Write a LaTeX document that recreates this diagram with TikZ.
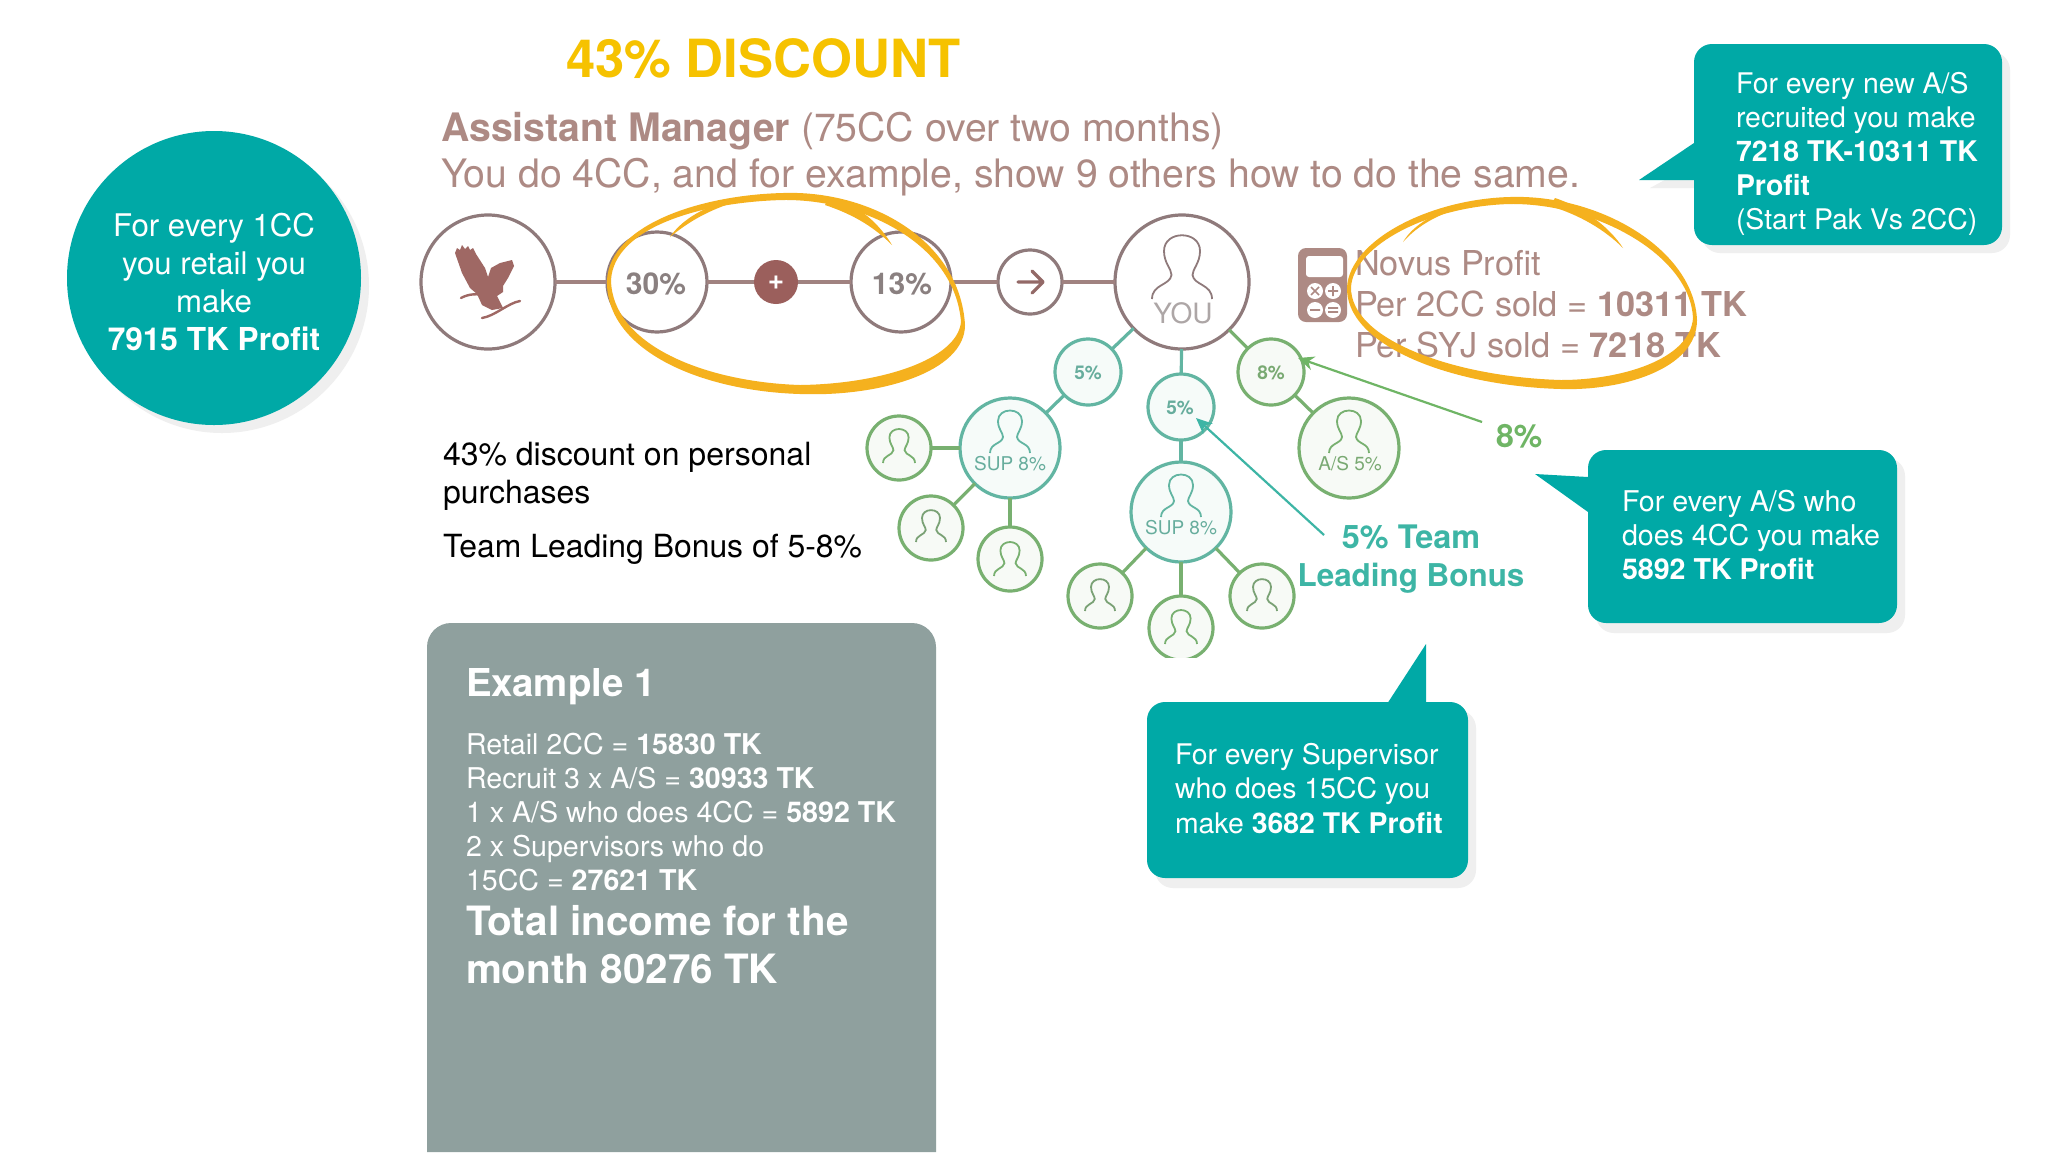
\documentclass[tikz,border=0pt]{standalone}
\usepackage{fontspec}
\setmainfont{TeX Gyre Heros}
\usetikzlibrary{arrows.meta,calc}
\definecolor{teal1}{HTML}{00A9A6}
\definecolor{shadowc}{HTML}{EFEFEF}
\definecolor{rosetxt}{HTML}{AD8A84}
\definecolor{brownline}{HTML}{A08280}
\definecolor{brownring}{HTML}{8F7A7B}
\definecolor{plusc}{HTML}{9B5F5C}
\definecolor{orangec}{HTML}{F5B11E}
\definecolor{titlec}{HTML}{F6C200}
\definecolor{greyb}{HTML}{8FA09E}
\definecolor{tealring}{HTML}{62B5A2}
\definecolor{greenring}{HTML}{78B070}
\definecolor{tealtxt}{HTML}{3DB5A5}
\definecolor{greentxt}{HTML}{6FB565}
\definecolor{greyt}{HTML}{8A8080}
\tikzset{
  x=0.5pt,y=-0.5pt,
  txt/.style={anchor=base west,inner sep=0pt,outer sep=0pt},
  ctxt/.style={anchor=base,inner sep=0pt,outer sep=0pt},
  brownc/.style={circle,draw=brownring,line width=1.6pt,fill=white,inner sep=0pt,outer sep=0pt},
  tealc/.style={circle,draw=tealring,line width=1.6pt,fill=tealring!6,inner sep=0pt,outer sep=0pt},
  greenc/.style={circle,draw=greenring,line width=1.6pt,fill=greenring!6,inner sep=0pt,outer sep=0pt},
  brownlink/.style={draw=brownline,line width=2pt},
  teallink/.style={draw=tealring,line width=1.6pt},
  greenlink/.style={draw=greenring,line width=1.6pt},
  callout/.style={fill=teal1,rounded corners=9pt,inner sep=0pt,outer sep=0pt,anchor=north west},
  scrawl/.style={fill=orangec,even odd rule},
}
\newcommand{\fs}[1]{\fontsize{#1}{#1}\selectfont}
\newcommand{\personicon}[4]{%
  \begin{scope}[shift={(#1,#2)},scale=#3]
  \draw[#4,line width=0.9pt] (-1,1) .. controls (-1,0.5) and (-0.4,0.55) .. (-0.35,0.2)
   .. controls (-0.35,0) and (-0.6,-0.2) .. (-0.6,-0.6)
   .. controls (-0.6,-1.3) and (0.6,-1.3) .. (0.6,-0.6)
   .. controls (0.6,-0.2) and (0.35,0) .. (0.35,0.2)
   .. controls (0.4,0.55) and (1,0.5) .. (1,1);
  \end{scope}}
\begin{document}
\begin{tikzpicture}
\useasboundingbox (0,0) rectangle (2048,1152);
\fill[white] (0,0) rectangle (2048,1152);

% left circle
\fill[shadowc] (222,286) circle[radius=147];
\node[circle,fill=teal1,minimum size=147pt,inner sep=0pt] (retail) at (214,278) {};
\node[ctxt,white] (r1) at (214,236) {\fs{15.6}For every 1CC};
\node[ctxt,white] (r2) at (214,274) {\fs{15.6}you retail you};
\node[ctxt,white] (r3) at (214,312) {\fs{15.6}make};
\node[ctxt,white] (r4) at (214,350) {\fs{15.8}\textbf{7915 TK Profit}};

% title
\node[txt,titlec] (title) at (566,77) {\fs{26.3}\textbf{43\% DISCOUNT}};
\node[txt,rosetxt] (h1) at (441,141) {\fs{19.6}\textbf{Assistant Manager} (75CC over two months)};
\node[txt,rosetxt] (h2) at (441,187) {\fs{19.6}You do 4CC, and for example, show 9 others how to do the same.};

% top row
\node[brownc,minimum size=67pt] (eagle) at (488,282) {};
\node[brownc,minimum size=50pt] (p30) at (657,282) {};
\node[circle,fill=plusc,minimum size=22pt,inner sep=0pt] (plus) at (776,282) {};
\node[brownc,minimum size=50pt] (p13) at (901,282) {};
\node[brownc,minimum size=32pt] (arr) at (1030,282) {};
\node[brownc,minimum size=67pt] (you) at (1182,282) {};
\draw[brownlink] (eagle) -- (p30);
\draw[brownlink] (p30) -- (plus);
\draw[brownlink] (plus) -- (p13);
\draw[brownlink] (p13) -- (arr);
\draw[brownlink] (arr) -- (you);
\node[ctxt,greyt] (t30) at (656,294) {\fs{15}\textbf{30\%}};
\node[ctxt,greyt] (t13) at (902,294) {\fs{15}\textbf{13\%}};
\node[ctxt,white] (tplus) at (776,289) {\fs{14}\textbf{+}};
\node[ctxt,greyt!70] (tyou) at (1183,323) {\fs{14}YOU};
\personicon{1182}{269}{30}{brownring}
% arrow glyph
\draw[plusc!70!gray,line width=1.6pt,line cap=round,line join=round]
  (1018,282) -- (1043,282) (1032,271) -- (1043,282) -- (1032,293);
% eagle
\fill[plusc!80!rosetxt] (455,253) -- (457,248) -- (460,250) -- (462,245) -- (465,249) -- (468,246) -- (470,250) -- (473,248) -- (476,254)
  -- (485,268) -- (488,277) -- (491,268) -- (500,263) -- (512,260) -- (514,266) -- (508,278) -- (503,286) -- (503,292) -- (497,296)
  -- (503,308) -- (492,310) -- (482,305) -- (477,294) -- (470,288) -- (462,273) -- cycle;
\draw[plusc!80!rosetxt,line width=1.2pt,line cap=round] (461,298) .. controls (468,294) and (478,293) .. (486,296)
  (482,318) .. controls (495,316) and (508,303) .. (520,301);

% calculator
\node[rounded corners=4pt,fill=rosetxt,minimum width=24.5pt,minimum height=37pt,inner sep=0pt] (calc) at (1322.5,285) {};
\fill[white,rounded corners=1.5pt] (1306,256) rectangle (1343,277);
\foreach \bx/\by in {1315/291,1333/291,1315/310,1333/310} \fill[white] (\bx,\by) circle[radius=8];
\draw[rosetxt,line width=0.8pt] (1311,287) -- (1319,295) (1319,287) -- (1311,295)
  (1328,291) -- (1338,291) (1333,286) -- (1333,296)
  (1310,310) -- (1320,310)
  (1328,308) -- (1338,308) (1328,312) -- (1338,312);

% novus text
\node[txt,rosetxt] (n1) at (1355,275) {\fs{17.15}Novus Profit};
\node[txt,rosetxt] (n2) at (1355,316) {\fs{17.15}Per 2CC sold = \textbf{10311 TK}};
\node[txt,rosetxt] (n3) at (1355,357) {\fs{17.15}Per SYJ sold = \textbf{7218 TK}};

% tree
\node[tealc,minimum size=33pt] (a5) at (1088,372) {};
\node[tealc,minimum size=33pt] (b5) at (1181,407) {};
\node[greenc,minimum size=33pt] (c8) at (1271,372) {};
\node[tealc,minimum size=50pt] (sup1) at (1010,448) {};
\node[greenc,minimum size=32pt] (s1a) at (899,448) {};
\node[greenc,minimum size=32pt] (s1b) at (931,528) {};
\node[greenc,minimum size=32pt] (s1c) at (1010,559) {};
\node[greenc,minimum size=50pt] (as) at (1349,448) {};
\node[tealc,minimum size=50pt] (sup2) at (1181,512) {};
\node[greenc,minimum size=32pt] (s2a) at (1100,596) {};
\node[greenc,minimum size=32pt] (s2b) at (1181,628) {};
\node[greenc,minimum size=32pt] (s2c) at (1262,596) {};
\draw[teallink] (you) -- (a5);
\draw[teallink] (you) -- (b5);
\draw[greenlink] (you) -- (c8);
\draw[teallink] (a5) -- (sup1);
\draw[greenlink] (sup1) -- (s1a);
\draw[greenlink] (sup1) -- (s1b);
\draw[greenlink] (sup1) -- (s1c);
\draw[greenlink] (c8) -- (as);
\draw[teallink] (b5) -- (sup2);
\draw[greenlink] (sup2) -- (s2a);
\draw[greenlink] (sup2) -- (s2b);
\draw[greenlink] (sup2) -- (s2c);
\fill[white] (1130,658) rectangle (1230,668);
\personicon{1010}{433}{20}{tealring}
\personicon{1181}{497}{20}{tealring}
\personicon{1349}{433}{20}{greenring}
\personicon{899}{447}{16}{greenring}
\personicon{931}{527}{15}{greenring!70!gray}
\personicon{1010}{560}{16}{greenring}
\personicon{1100}{596}{15}{greenring!70!gray}
\personicon{1181}{628}{16}{greenring}
\personicon{1262}{596}{15}{greenring!70!gray}
\node[ctxt,tealring!85!gray] (ta5) at (1088,379) {\fs{9.5}\textbf{5\%}};
\node[ctxt,tealring!85!gray] (tb5) at (1180,414) {\fs{9.5}\textbf{5\%}};
\node[ctxt,greenring!85!gray] (tc8) at (1271,379) {\fs{9.5}\textbf{8\%}};
\node[ctxt,tealring!85!gray] (tsup1) at (1010,470) {\fs{9.5}SUP 8\%};
\node[ctxt,tealring!85!gray] (tsup2) at (1181,534) {\fs{9.5}SUP 8\%};
\node[ctxt,greenring!85!gray] (tas) at (1350,470) {\fs{9.5}A/S 5\%};

% labels with arrows
\node[txt,greentxt] (l8) at (1496,447) {\fs{16}\textbf{8\%}};
\coordinate (l8from) at (1482,422);
\coordinate (l8to) at (1298,358);
\draw[-{Stealth[length=8pt,width=7pt]},draw=greentxt,line width=1.1pt,fill=greentxt] (l8from) -- (l8to);
\node[ctxt,tealtxt] (l5a) at (1411,548) {\fs{16.2}\textbf{5\% Team}};
\node[ctxt,tealtxt] (l5b) at (1411,586) {\fs{15.7}\textbf{Leading Bonus}};
\coordinate (l5from) at (1324,535);
\coordinate (l5to) at (1196,418);
\draw[-{Stealth[length=8pt,width=7pt]},draw=tealtxt,line width=1.1pt,fill=tealtxt] (l5from) -- (l5to);

% black text
\node[txt,black] (d1) at (443,465) {\fs{16}43\% discount on personal};
\node[txt,black] (d2) at (443,503) {\fs{16}purchases};
\node[txt,black] (d3) at (443,557) {\fs{15.95}Team Leading Bonus of 5-8\%};

% grey box
\fill[greyb] (427,1152) [rounded corners=12pt] -- (427,623) -- (936,623) [sharp corners] -- (936,1152) -- cycle;
\node[txt,white] (e0) at (466,696) {\fs{19.2}\textbf{Example 1}};
\node[txt,white] (e1) at (466,754) {\fs{14.3}Retail 2CC = \textbf{15830 TK}};
\node[txt,white] (e2) at (466,788) {\fs{14.3}Recruit 3 x A/S = \textbf{30933 TK}};
\node[txt,white] (e3) at (466,822) {\fs{14.3}1 x A/S who does 4CC = \textbf{5892 TK}};
\node[txt,white] (e4) at (466,856) {\fs{14.3}2 x Supervisors who do};
\node[txt,white] (e5) at (466,890) {\fs{14.3}15CC = \textbf{27621 TK}};
\node[txt,white] (e6) at (466,935) {\fs{20.2}\textbf{Total income for the}};
\node[txt,white] (e7) at (466,983) {\fs{20.2}\textbf{month 80276 TK}};

% top right callout
\fill[shadowc,rounded corners=9pt] (1702,52) rectangle (2010,253);
\fill[shadowc] (1650,188) -- (1720,188) -- (1720,150) -- cycle;
\fill[teal1] (1639,180) -- (1694,143) -- (1710,143) -- (1710,180) -- cycle;
\node[callout,minimum width=154pt,minimum height=100.5pt] (c1) at (1694,44) {};
\node[txt,white] (c1a) at (1736,93) {\fs{14.2}For every new A/S};
\node[txt,white] (c1b) at (1736,127) {\fs{14.2}recruited you make};
\node[txt,white] (c1c) at (1736,161) {\fs{14.2}\textbf{7218 TK-10311 TK}};
\node[txt,white] (c1d) at (1736,195) {\fs{14.2}\textbf{Profit}};
\node[txt,white] (c1e) at (1736,229) {\fs{14.2}(Start Pak Vs 2CC)};

% right callout
\fill[shadowc,rounded corners=9pt] (1596,458) rectangle (1905,633);
\fill[teal1] (1535,474) -- (1588,477) -- (1604,477) -- (1604,512) -- (1588,512) -- cycle;
\node[callout,minimum width=154.5pt,minimum height=86.5pt] (c2) at (1588,450) {};
\node[txt,white] (c2a) at (1622,511) {\fs{14.3}For every A/S who};
\node[txt,white] (c2b) at (1622,545) {\fs{14.3}does 4CC you make};
\node[txt,white] (c2c) at (1622,579) {\fs{14.3}\textbf{5892 TK Profit}};

% bottom callout
\fill[shadowc,rounded corners=9pt] (1155,710) rectangle (1476,888);
\fill[teal1] (1426,644) -- (1387,704) -- (1387,720) -- (1426,720) -- cycle;
\node[callout,minimum width=160.5pt,minimum height=88pt] (c3) at (1147,702) {};
\node[txt,white] (c3a) at (1175,764) {\fs{14.2}For every Supervisor};
\node[txt,white] (c3b) at (1175,798) {\fs{14.2}who does 15CC you};
\node[txt,white] (c3c) at (1175,833) {\fs{14.2}make \textbf{3682 TK Profit}};

% hand-drawn rings
\fill[scrawl] (783,193) .. controls (870,190) and (960,240) .. (965,325) .. controls (965,372) and (880,397) .. (800,394) .. controls (700,391) and (605,350) .. (607,280) .. controls (610,225) and (700,195) .. (783,193) -- cycle
 (783,200) .. controls (865,199) and (955,245) .. (961,322) .. controls (957,360) and (880,384) .. (800,385) .. controls (705,382) and (612,345) .. (611,280) .. controls (614,228) and (700,202) .. (783,200) -- cycle;
\fill[orangec] (670,237) .. controls (680,222) and (700,208) .. (730,200) -- (745,199) .. controls (705,210) and (685,225) .. (670,237) -- cycle;
\fill[orangec] (830,197) .. controls (860,205) and (880,225) .. (892,245) .. controls (875,228) and (855,215) .. (825,205) -- cycle;
\fill[scrawl] (1510,197) .. controls (1600,194) and (1694,250) .. (1697,320) .. controls (1697,370) and (1620,391) .. (1561,389) .. controls (1450,386) and (1345,345) .. (1347,287) .. controls (1350,240) and (1430,199) .. (1510,197) -- cycle
 (1510,204) .. controls (1595,203) and (1690,255) .. (1693,318) .. controls (1690,360) and (1620,380) .. (1561,380) .. controls (1455,377) and (1350,340) .. (1351,287) .. controls (1354,245) and (1430,206) .. (1510,204) -- cycle;
\fill[orangec] (1403,242) .. controls (1413,225) and (1435,212) .. (1465,203) -- (1480,202) .. controls (1440,212) and (1418,225) .. (1403,242) -- cycle;
\fill[orangec] (1555,198) .. controls (1585,208) and (1610,228) .. (1623,248) .. controls (1605,230) and (1580,215) .. (1550,206) -- cycle;
\end{tikzpicture}
\end{document}
